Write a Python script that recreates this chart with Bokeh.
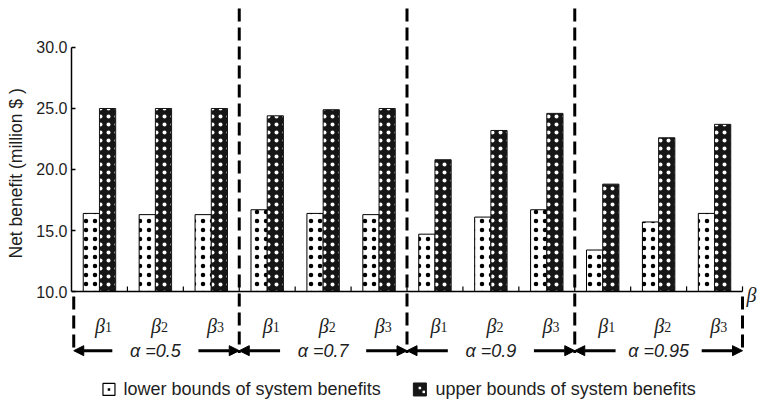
import numpy as np
from bokeh.plotting import figure
from bokeh.models import (Range1d, LinearAxis, FixedTicker, NumeralTickFormatter,
                          ColumnDataSource, Arrow, NormalHead, Title)
from bokeh.core.properties import value
from bokeh.embed import file_html
from bokeh.resources import INLINE

# ---- data ----
alpha_labels = ["α =0.5", "α =0.7", "α =0.9", "α =0.95"]
beta_subs = ["1", "2", "3"]
lower = [16.4, 16.3, 16.3, 16.7, 16.4, 16.3, 14.7, 16.1, 16.7, 13.4, 15.7, 16.4]
upper = [25.0, 25.0, 25.0, 24.4, 24.9, 25.0, 20.8, 23.2, 24.6, 18.8, 22.6, 23.7]
y_ticks = [10, 15, 20, 25, 30]
y_label = "Net benefit (million $ )"
legend_labels = ["lower bounds of system benefits", "upper bounds of system benefits"]

SANS = "Liberation Sans"
SERIF = "Liberation Serif"
INK = "#1e1e1e"

n_g = len(alpha_labels)
n_b = len(beta_subs)
n = n_g * n_b
base = y_ticks[0]

p = figure(width=758, height=400, output_backend="svg", toolbar_location=None,
           x_range=Range1d(0, 12.286), y_range=Range1d(1.066, 33.852),
           min_border_left=71, min_border_right=0, min_border_top=0, min_border_bottom=0,
           x_axis_location=None, y_axis_location=None)
p.outline_line_color = None
p.xgrid.visible = False
p.ygrid.visible = False
p.background_fill_color = "white"

yaxis = LinearAxis(bounds=(y_ticks[0], y_ticks[-1]), ticker=FixedTicker(ticks=y_ticks),
                   formatter=NumeralTickFormatter(format="0.0"))
yaxis.major_tick_in = 4
yaxis.major_tick_out = 0
yaxis.minor_tick_line_color = None
yaxis.axis_line_width = 1.5
yaxis.major_tick_line_width = 1.5
yaxis.major_label_text_font = SANS
yaxis.major_label_text_font_size = "16px"
yaxis.major_label_text_color = INK
yaxis.major_label_standoff = 4
p.add_layout(yaxis, "left")

p.add_layout(Title(text=y_label, align="left", vertical_align="top", offset=142, standoff=11,
                   text_font=SANS, text_font_size="17.5px", text_font_style="normal",
                   text_color=INK), "left")

idx = np.arange(n)
centers = idx + 0.5
bw = 0.29
src = ColumnDataSource(dict(xl=centers - bw / 2, xu=centers + bw / 2,
                            lower=lower, upper=upper))
p.vbar(x="xl", top="lower", bottom=base, width=bw, source=src,
       fill_color="white", line_color="black", line_width=1,
       hatch_pattern="dot", hatch_color="black", hatch_scale=9, hatch_weight=1.1)
p.vbar(x="xu", top="upper", bottom=base, width=bw, source=src,
       fill_color="#161616", line_color="#161616", line_width=1,
       hatch_pattern="dot", hatch_color="white", hatch_scale=8, hatch_weight=1.1)

# x axis line and ticks
p.segment(x0=[0], y0=[base], x1=[n], y1=[base], line_color="black", line_width=1.5)
tk = np.arange(1, n + 1)
p.segment(x0=tk, y0=[base] * n, x1=tk, y1=[base + 0.42] * n, line_color="black", line_width=1.2)

# dashed group separators
bounds = np.arange(1, n_g) * n_b
p.segment(x0=bounds, y0=[33.2] * len(bounds), x1=bounds, y1=[4.95] * len(bounds),
          line_color="black", line_width=3, line_dash="13 6")
outer = [0.04, n]
p.segment(x0=outer, y0=[9.6, 9.6], x1=outer, y1=[5.05, 5.05],
          line_color="black", line_width=3, line_dash="13 6")

# beta labels
p.text(x=centers + 0.1, y=[7.2] * n, text=["β"] * n, text_align="right",
       text_baseline="alphabetic", text_font=value(SERIF), text_font_style="italic",
       text_font_size="20px", text_color=INK)
p.text(x=centers + 0.1, y=[7.05] * n, text=beta_subs * n_g, text_align="left",
       text_baseline="alphabetic", text_font=value(SERIF),
       text_font_size="14px", text_color=INK)
p.text(x=[n + 0.07], y=[9.7], text=["β"], text_align="left", text_baseline="alphabetic",
       text_font=value(SERIF), text_font_style="italic", text_font_size="20px",
       text_color=INK)

# alpha labels and arrows
gc = np.arange(n_g) * n_b + n_b / 2
ya = 5.15
p.text(x=gc, y=[ya] * n_g, text=alpha_labels, text_align="center", text_baseline="middle",
       text_font=value(SANS), text_font_style="italic", text_font_size="18px",
       text_color=INK)
gap = 0.77
left_end = np.arange(n_g) * n_b
left_end = np.where(left_end == 0, 0.04, left_end)
asrc = ColumnDataSource(dict(
    x0=np.concatenate([gc - gap, gc + gap]),
    x1=np.concatenate([left_end, np.arange(1, n_g + 1) * n_b]),
    y0=[ya] * (2 * n_g), y1=[ya] * (2 * n_g)))
p.add_layout(Arrow(end=NormalHead(size=10, fill_color="black", line_color="black", line_width=1),
                   x_start="x0", y_start="y0", x_end="x1", y_end="y1", source=asrc,
                   line_color="black", line_width=3))

# legend
ly = 1.97
p.rect(x=[0.67], y=[ly], width=12, height=12, width_units="screen", height_units="screen",
       fill_color="white", line_color="black", line_width=1.2)
p.rect(x=[0.67], y=[ly], width=2.5, height=2.5, width_units="screen", height_units="screen",
       fill_color="black", line_color=None)
p.rect(x=[6.23], y=[ly], width=13, height=13, width_units="screen", height_units="screen",
       fill_color="#161616", line_color="#161616")
p.rect(x=[6.23, 6.3], y=[ly + 0.12, ly - 0.2], width=2.5, height=2.5, width_units="screen",
       height_units="screen", fill_color="white", line_color=None)
p.text(x=[0.93, 6.51], y=[ly, ly], text=legend_labels, text_align="left",
       text_baseline="middle", text_font=value(SANS), text_font_size="18px",
       text_color=INK)

open("out.html", "w").write(file_html(p, INLINE))
